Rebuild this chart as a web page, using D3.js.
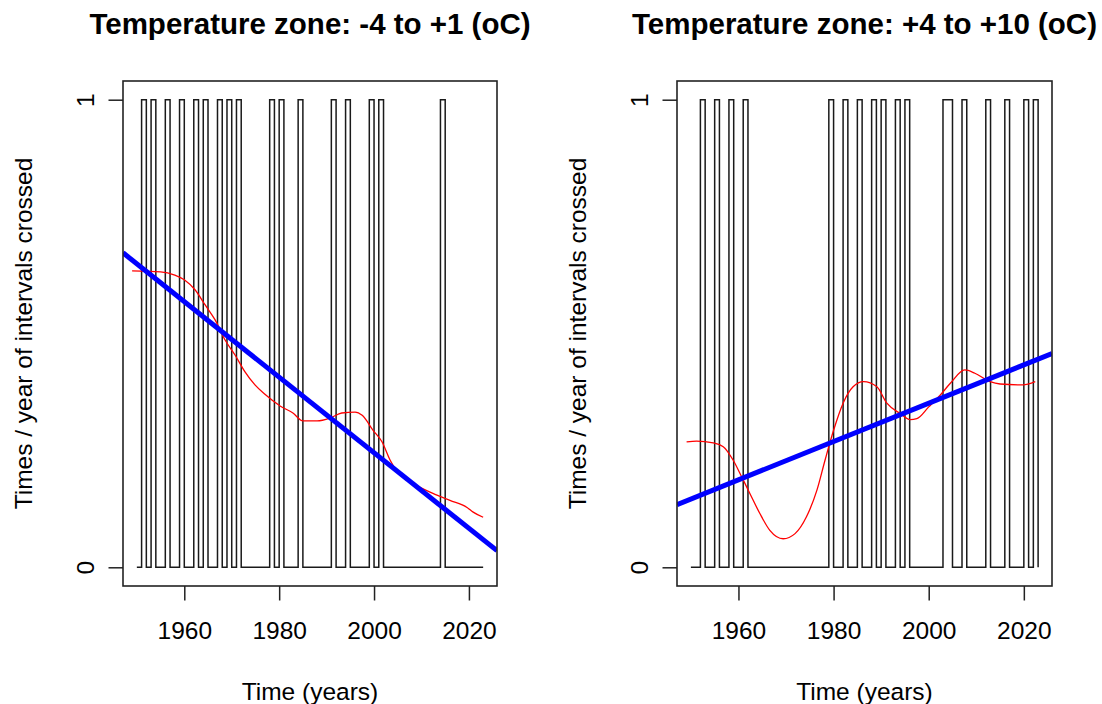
<!DOCTYPE html>
<html>
<head>
<meta charset="utf-8">
<script src="https://cdn.jsdelivr.net/npm/d3@7"></script>
<style>
  body { margin: 0; background: #fff; }
  text { font-family: "Liberation Sans", Arial, sans-serif; fill: #000; }
</style>
</head>
<body>
<div id="chart"></div>
<script>
// ---- data ----
const yearSpan = [1950, 2023];
const xTicks = [1960, 1980, 2000, 2020];
const yTicks = [0, 1];

const leftTitle = "Temperature zone: -4 to +1 (oC)";
const rightTitle = "Temperature zone: +4 to +10 (oC)";
const xLabel = "Time (years)";
const yLabel = "Times / year of intervals crossed";

// years where the zone was crossed (value 1), all other years 0
const leftHitYears = [1951, 1953, 1956, 1959, 1962, 1964, 1967, 1969, 1971,
  1978, 1980, 1984, 1991, 1994, 1999, 2001, 2014];
const rightHitYears = [1952, 1955, 1958, 1961, 1979, 1982, 1985, 1988, 1990,
  1993, 1995, 2003, 2004, 2007, 2012, 2016, 2020, 2022];

// smoothed curve (red)
const leftSmoothYears = [1949, 1955, 1958, 1960, 1962.3, 1964.4, 1966.5, 1968.6, 1970.7,
  1972.8, 1974.9, 1977, 1980.2, 1982.9, 1985, 1988, 1990.7, 1993.2, 1996, 1997.5,
  1999.8, 2001.7, 2003.4, 2005, 2006.9, 2009.7, 2012.4, 2016, 2019.6, 2020.9, 2023];
const leftSmoothValues = [0.634, 0.632, 0.625, 0.615, 0.593, 0.561, 0.529, 0.486, 0.454,
  0.418, 0.390, 0.370, 0.345, 0.330, 0.313, 0.313, 0.319, 0.330, 0.332, 0.325,
  0.293, 0.268, 0.229, 0.203, 0.186, 0.171, 0.158, 0.143, 0.128, 0.118, 0.107];

const rightSmoothYears = [1949.1, 1951.2, 1954.7, 1956.8, 1958.9, 1960.7, 1962.4, 1964.5,
  1966.6, 1969.4, 1971.9, 1974.3, 1976.5, 1978.2, 1980, 1982, 1984.1, 1986.3, 1989.1,
  1991.2, 1994, 1996.1, 1997.5, 2000, 2002.4, 2004.5, 2007.6, 2009.7, 2012.9, 2015,
  2019.8, 2022.4];
const rightSmoothValues = [0.268, 0.270, 0.266, 0.258, 0.229, 0.193, 0.158, 0.115,
  0.079, 0.061, 0.072, 0.108, 0.165, 0.229, 0.293, 0.351, 0.386, 0.397, 0.386,
  0.351, 0.329, 0.316, 0.318, 0.343, 0.368, 0.393, 0.422, 0.415, 0.397, 0.392,
  0.390, 0.397];

// linear trend (blue): [value at 2000, slope per year]
const leftTrend = [0.245, -0.00808];
const rightTrend = [0.351, 0.0041];

// ---- layout ----
const width = 1102;
const height = 704;
const lh = 29.5; // one text line in px

const svg = d3.select("#chart").append("svg")
  .attr("width", width)
  .attr("height", height);

const panels = [
  { title: leftTitle, hits: leftHitYears, sx: leftSmoothYears, sy: leftSmoothValues, trend: leftTrend, left: 123, right: 497 },
  { title: rightTitle, hits: rightHitYears, sx: rightSmoothYears, sy: rightSmoothValues, trend: rightTrend, left: 677, right: 1052 }
];

const plotTop = 81, plotBottom = 586;

panels.forEach((p, i) => {
  const pad = 0.04 * (yearSpan[1] - yearSpan[0]);
  const x = d3.scaleLinear()
    .domain([yearSpan[0] - pad, yearSpan[1] + pad])
    .range([p.left, p.right]);
  const y = d3.scaleLinear()
    .domain([-0.04, 1.04])
    .range([plotBottom, plotTop]);

  const g = svg.append("g");

  const clipId = "clip" + i;
  svg.append("clipPath").attr("id", clipId)
    .append("rect")
    .attr("x", p.left).attr("y", plotTop)
    .attr("width", p.right - p.left).attr("height", plotBottom - plotTop);

  // annual crossing series
  const series = [];
  for (let yr = yearSpan[0]; yr <= yearSpan[1]; yr++) {
    series.push({ year: yr, value: p.hits.includes(yr) ? 1 : 0 });
  }
  const step = d3.line()
    .x(d => x(d.year))
    .y(d => y(d.value))
    .curve(d3.curveStepAfter);

  g.append("path")
    .datum(series)
    .attr("fill", "none")
    .attr("stroke", "#1a1a1a")
    .attr("stroke-width", 1.5)
    .attr("d", step);

  // smoothed curve
  const smooth = p.sx.map((yr, k) => ({ year: yr, value: p.sy[k] }));
  g.append("path")
    .datum(smooth)
    .attr("fill", "none")
    .attr("stroke", "#ff0000")
    .attr("stroke-width", 1.3)
    .attr("d", d3.line().x(d => x(d.year)).y(d => y(d.value)).curve(d3.curveMonotoneX));

  // trend line across the whole plot region
  const [d0, d1] = x.domain();
  const trendPts = [d0, d1].map(yr => ({ year: yr, value: p.trend[0] + p.trend[1] * (yr - 2000) }));
  g.append("path")
    .datum(trendPts)
    .attr("clip-path", `url(#${clipId})`)
    .attr("fill", "none")
    .attr("stroke", "#0000ff")
    .attr("stroke-width", 5)
    .attr("d", d3.line().x(d => x(d.year)).y(d => y(d.value)));

  // box
  g.append("rect")
    .attr("x", p.left).attr("y", plotTop)
    .attr("width", p.right - p.left).attr("height", plotBottom - plotTop)
    .attr("fill", "none")
    .attr("stroke", "#222")
    .attr("stroke-width", 1.6);

  // x axis
  const xAxis = g.append("g")
    .attr("transform", `translate(0,${plotBottom})`)
    .call(d3.axisBottom(x).tickValues(xTicks).tickFormat(d3.format("d")).tickSize(14.5).tickSizeOuter(0));
  xAxis.select(".domain").remove();
  xAxis.selectAll(".tick line").attr("stroke", "#222").attr("stroke-width", 1.5);
  xAxis.selectAll(".tick text")
    .attr("y", 1.5 * lh + 9)
    .attr("dy", null)
    .style("font-size", "24.5px")
    .style("font-family", "'Liberation Sans', Arial, sans-serif");

  // y axis
  const yAxis = g.append("g")
    .attr("transform", `translate(${p.left},0)`)
    .call(d3.axisLeft(y).tickValues(yTicks).tickFormat(d3.format("d")).tickSize(14.5).tickSizeOuter(0));
  yAxis.select(".domain").remove();
  yAxis.selectAll(".tick line").attr("stroke", "#222").attr("stroke-width", 1.5);
  yAxis.selectAll(".tick text")
    .attr("x", null).attr("dy", null)
    .attr("text-anchor", "middle")
    .attr("transform", `translate(${-lh},0) rotate(-90)`)
    .attr("y", 0)
    .style("font-size", "24.5px")
    .style("font-family", "'Liberation Sans', Arial, sans-serif");

  // axis titles
  g.append("text")
    .attr("x", (p.left + p.right) / 2)
    .attr("y", 700)
    .attr("text-anchor", "middle")
    .style("font-size", "24.5px")
    .text(xLabel);

  g.append("text")
    .attr("transform", `translate(${p.left - 3 * lh - 3},${(plotTop + plotBottom) / 2}) rotate(-90)`)
    .attr("text-anchor", "middle")
    .style("font-size", "24.5px")
    .text(yLabel);

  // title
  g.append("text")
    .attr("x", (p.left + p.right) / 2)
    .attr("y", 34)
    .attr("text-anchor", "middle")
    .style("font-size", "29.5px")
    .style("font-weight", "bold")
    .text(p.title);
});
</script>
</body>
</html>
